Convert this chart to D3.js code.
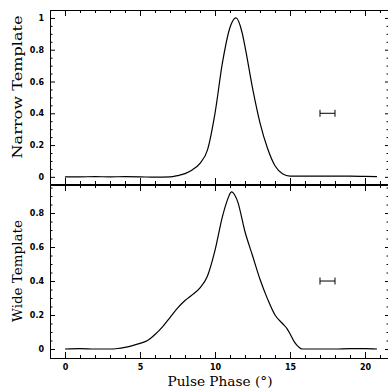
<!DOCTYPE html>
<html>
<head>
<meta charset="utf-8">
<script src="https://cdn.jsdelivr.net/npm/d3@7"></script>
<style>
  html, body { margin: 0; padding: 0; background: #fff; }
  svg { display: block; }
  .tick text { font-family: "DejaVu Sans", sans-serif; font-weight: bold; font-size: 8px; fill: #000; }
</style>
</head>
<body>
<svg id="chart" width="388" height="391"></svg>
<script>
// ---- data ----
const narrowPhase = [0, 1, 2, 3, 4, 5, 6, 7, 7.5, 8, 8.5, 9, 9.5, 10, 10.5, 11, 11.4, 11.8, 12, 12.5, 13, 13.5, 14, 14.5, 15, 16, 17, 18, 19, 20, 20.8];
const narrowValue = [0, 0, 0.001, 0, 0.001, 0, -0.002, 0, 0.008, 0.02, 0.045, 0.085, 0.17, 0.4, 0.72, 0.94, 1.0, 0.91, 0.82, 0.56, 0.34, 0.18, 0.07, 0.02, 0.005, 0.005, 0.005, 0.004, 0.004, 0.003, 0.002];

const widePhase = [0, 1, 2, 3, 3.5, 4, 4.5, 5, 5.5, 6, 6.5, 7, 7.5, 8, 8.5, 9, 9.5, 10, 10.5, 10.8, 11.1, 11.5, 12, 12.5, 13, 13.5, 14, 14.5, 14.8, 15, 15.3, 15.6, 15.8, 17, 18, 19, 20, 20.8];
const wideValue  = [0, 0.002, 0, 0, 0.003, 0.01, 0.02, 0.033, 0.05, 0.085, 0.13, 0.185, 0.24, 0.285, 0.32, 0.36, 0.43, 0.58, 0.78, 0.87, 0.925, 0.87, 0.69, 0.55, 0.41, 0.295, 0.2, 0.15, 0.12, 0.09, 0.04, 0.01, 0, 0, 0, 0.002, 0.002, 0];

const errorBarPhase = [17, 18];
const errorBarLevel = 0.4;

const xMajorTicks = [0, 5, 10, 15, 20];
const xTickLabels = ["0", "5", "10", "15", "20"];
const yMajorTicksTop = [0, 0.2, 0.4, 0.6, 0.8, 1];
const yTickLabelsTop = ["0", "0.2", "0.4", "0.6", "0.8", "1"];
const yMajorTicksBottom = [0, 0.2, 0.4, 0.6, 0.8];
const yTickLabelsBottom = ["0", "0.2", "0.4", "0.6", "0.8"];

const panelTitles = ["Narrow Template", "Wide Template"];
const xTitle = "Pulse Phase (°)";

// ---- layout ----
const svg = d3.select("#chart");
const left = 50, right = 390;
const x = d3.scaleLinear().domain([-1, 21.667]).range([left, right]);
const xMinor = d3.range(-1, 22, 1).filter(v => !xMajorTicks.includes(v));

const panels = [
  { top: 10, bottom: 184, domain: [-0.045, 1.05], px: narrowPhase, py: narrowValue,
    majors: yMajorTicksTop, labels: yTickLabelsTop, title: panelTitles[0], titleLen: 143, titleY: 87, xLabels: false },
  { top: 185, bottom: 358, domain: [-0.053, 0.965], px: widePhase, py: wideValue,
    majors: yMajorTicksBottom, labels: yTickLabelsBottom, title: panelTitles[1], titleLen: 102, titleY: 271, xLabels: true }
];

panels.forEach(p => {
  const y = d3.scaleLinear().domain(p.domain).range([p.bottom, p.top]);
  const yMinor = d3.range(0, p.domain[1], 0.05).map(v => +v.toFixed(2))
    .filter(v => !p.majors.some(m => Math.abs(m - v) < 1e-6));
  const g = svg.append("g");

  // bottom axis
  g.append("g").attr("transform", `translate(0,${p.bottom})`)
    .call(d3.axisBottom(x).tickValues(xMajorTicks).tickSizeInner(-6).tickSizeOuter(0).tickPadding(6)
      .tickFormat((d, i) => p.xLabels ? xTickLabels[i] : ""));
  g.append("g").attr("transform", `translate(0,${p.bottom})`)
    .call(d3.axisBottom(x).tickValues(xMinor).tickSizeInner(-3).tickSizeOuter(0).tickFormat(""));
  // top axis
  g.append("g").attr("transform", `translate(0,${p.top})`)
    .call(d3.axisTop(x).tickValues(xMajorTicks).tickSizeInner(-6).tickSizeOuter(0).tickFormat(""));
  g.append("g").attr("transform", `translate(0,${p.top})`)
    .call(d3.axisTop(x).tickValues(xMinor).tickSizeInner(-3).tickSizeOuter(0).tickFormat(""));
  // left axis
  g.append("g").attr("transform", `translate(${left},0)`)
    .call(d3.axisLeft(y).tickValues(p.majors).tickSizeInner(-5).tickSizeOuter(0).tickPadding(6)
      .tickFormat((d, i) => p.labels[i]));
  g.append("g").attr("transform", `translate(${left},0)`)
    .call(d3.axisLeft(y).tickValues(yMinor).tickSizeInner(-2.5).tickSizeOuter(0).tickFormat(""));
  // right axis (frame line falls just outside the window)
  g.append("g").attr("transform", `translate(${right},0)`)
    .call(d3.axisRight(y).tickValues(p.majors).tickSizeInner(-5).tickSizeOuter(0).tickFormat(""));
  g.append("g").attr("transform", `translate(${right},0)`)
    .call(d3.axisRight(y).tickValues(yMinor).tickSizeInner(-3.5).tickSizeOuter(0).tickFormat(""));

  // curve
  const pts = p.px.map((v, i) => [v, p.py[i]]);
  g.append("path").datum(pts)
    .attr("fill", "none").attr("stroke", "#000").attr("stroke-width", 1.2)
    .attr("d", d3.line().x(d => x(d[0])).y(d => y(d[1])).curve(d3.curveMonotoneX));

  // error bar
  const ey = y(errorBarLevel);
  g.append("line").attr("x1", x(errorBarPhase[0])).attr("x2", x(errorBarPhase[1]))
    .attr("y1", ey).attr("y2", ey).attr("stroke", "#000").attr("stroke-width", 1);
  errorBarPhase.forEach(v => {
    g.append("line").attr("x1", x(v)).attr("x2", x(v))
      .attr("y1", ey - 3.5).attr("y2", ey + 3.5).attr("stroke", "#000").attr("stroke-width", 1);
  });

  // panel title
  g.append("text")
    .attr("transform", `translate(22,${p.titleY}) rotate(-90)`)
    .attr("text-anchor", "middle")
    .attr("font-family", "DejaVu Serif, serif").attr("font-size", 13)
    .attr("textLength", p.titleLen).attr("lengthAdjust", "spacingAndGlyphs")
    .text(p.title);
});

svg.selectAll(".domain").attr("stroke", "#000").attr("stroke-width", 1);
svg.selectAll(".tick line").attr("stroke", "#000").attr("stroke-width", 1);

svg.append("text")
  .attr("x", 220).attr("y", 386)
  .attr("text-anchor", "middle")
  .attr("font-family", "DejaVu Serif, serif").attr("font-size", 13)
  .attr("textLength", 105).attr("lengthAdjust", "spacingAndGlyphs")
  .text(xTitle);
</script>
</body>
</html>
